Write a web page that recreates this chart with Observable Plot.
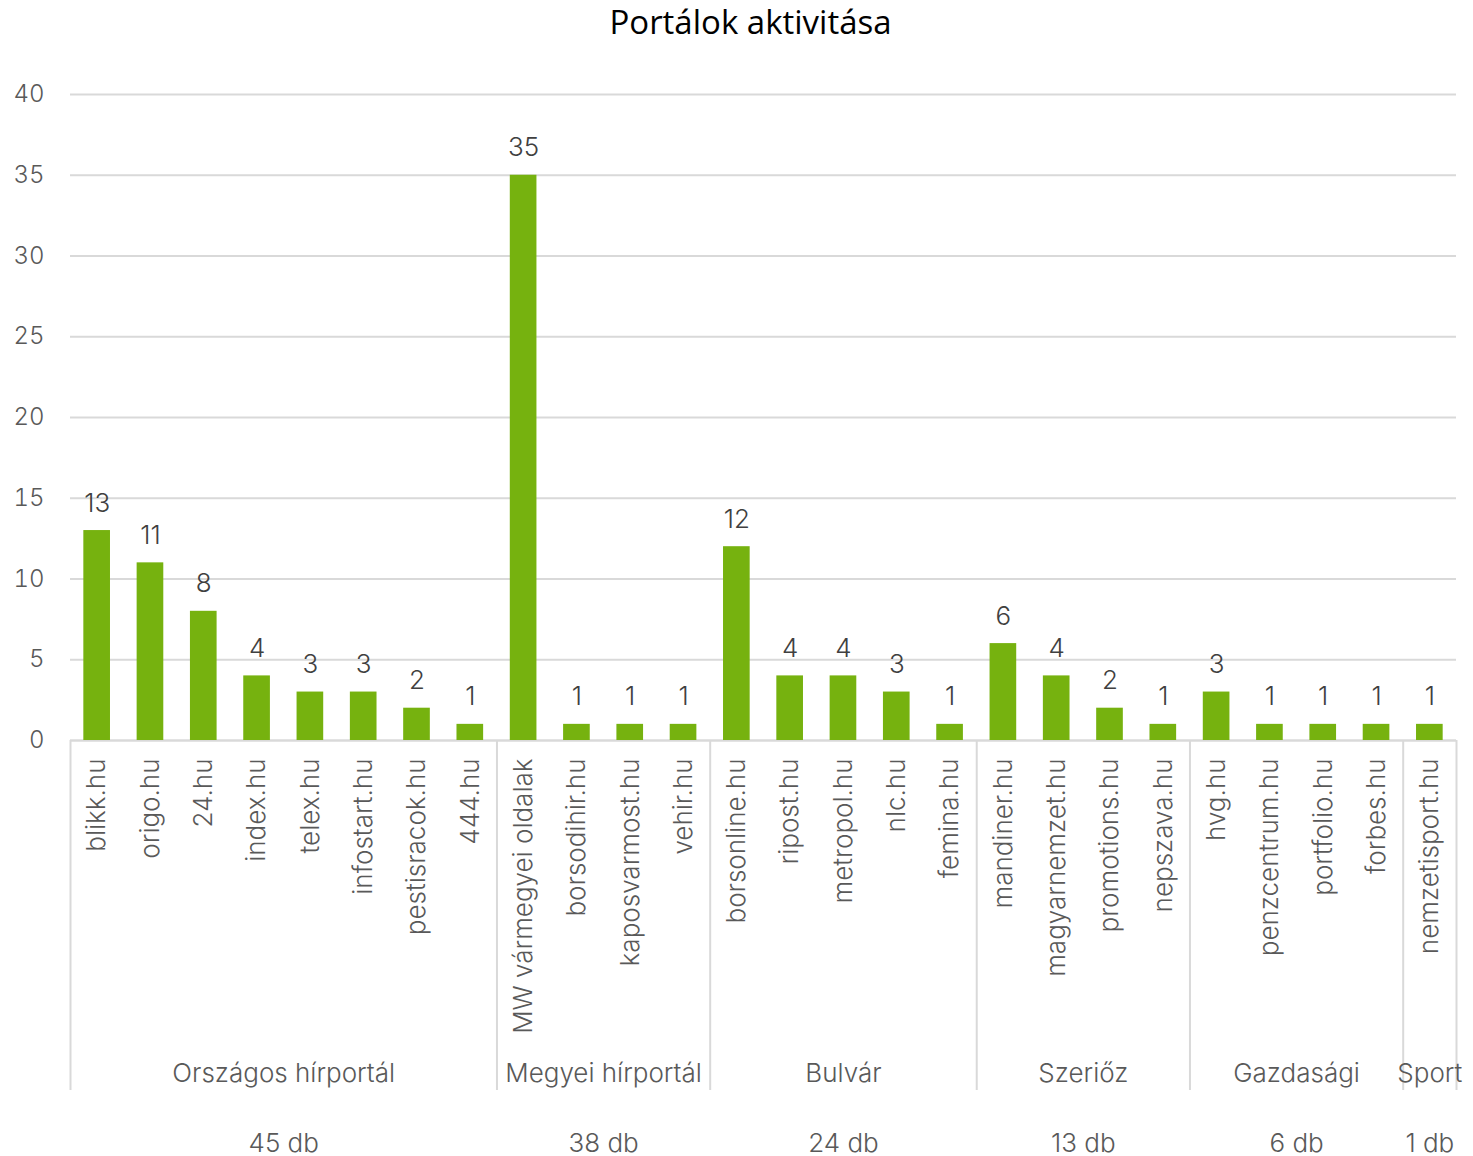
<!DOCTYPE html>
<html><head><meta charset="utf-8">
<script src="https://cdn.jsdelivr.net/npm/d3@7"></script>
<script src="https://cdn.jsdelivr.net/npm/@observablehq/plot@0.6"></script>
<style>
body{margin:0;background:#fff;}
#title{height:50px;line-height:44px;text-align:center;padding-left:28px;font-family:"Liberation Sans Narrow","Open Sans",sans-serif;font-size:33px;color:#000;}
#chart svg{display:block;}
</style></head><body>
<div id="title">Portálok aktivitása</div>
<div id="chart"></div>
<script>
const portals = ["blikk.hu","origo.hu","24.hu","index.hu","telex.hu","infostart.hu","pestisracok.hu","444.hu",
  "MW vármegyei oldalak","borsodihir.hu","kaposvarmost.hu","vehir.hu",
  "borsonline.hu","ripost.hu","metropol.hu","nlc.hu","femina.hu",
  "mandiner.hu","magyarnemzet.hu","promotions.hu","nepszava.hu",
  "hvg.hu","penzcentrum.hu","portfolio.hu","forbes.hu",
  "nemzetisport.hu"];
const counts = [13,11,8,4,3,3,2,1, 35,1,1,1, 12,4,4,3,1, 6,4,2,1, 3,1,1,1, 1];
const groupNames = ["Országos hírportál","Megyei hírportál","Bulvár","Szeriőz","Gazdasági","Sport"];
const groupSizes = [8,4,5,4,4,1];
const groupTotals = ["45 db","38 db","24 db","13 db","6 db","1 db"];
const yTicks = [0,5,10,15,20,25,30,35,40];

const W = 1473, H = 1106, mL = 70, mR = 17, mT = 44, mB = 416;
const step = (W - mL - mR) / portals.length;
const data = portals.map((p, i) => ({portal: p, count: counts[i]}));

let start = 0;
const groups = groupNames.map((g, i) => {
  const o = {name: g, first: portals[start], last: portals[start + groupSizes[i] - 1], size: groupSizes[i], total: groupTotals[i]};
  start += groupSizes[i];
  return o;
});

const txt = "#595959";
const marks = [
  Plot.gridY(yTicks, {stroke: "#d9d9d9", strokeOpacity: 1, strokeWidth: 2}),
  Plot.axisY(yTicks, {tickSize: 0, tickPadding: 26, fontSize: 24, fill: txt, label: null}),
  Plot.ruleY([0], {stroke: "#d9d9d9", strokeWidth: 2}),
  Plot.barY(data, {x: "portal", y: "count", fill: "#76b20f"}),
  Plot.text(data, {x: "portal", y: "count", text: d => String(d.count), dy: -19, lineAnchor: "bottom", fontSize: 26, fill: "#404040"}),
  Plot.axisX({tickRotate: -90, tickSize: 0, tickPadding: 18, fontSize: 26, fill: txt, label: null}),
  Plot.ruleX(groups, {x: "first", dx: -step / 2, stroke: "#d9d9d9", strokeWidth: 2, insetTop: H - mT - mB, insetBottom: -350}),
  Plot.ruleX(groups.slice(-1), {x: "last", dx: step / 2, stroke: "#d9d9d9", strokeWidth: 2, insetTop: H - mT - mB, insetBottom: -350})
];
groups.forEach(g => {
  marks.push(Plot.text([g], {x: "first", text: "name", dx: (g.size - 1) / 2 * step, frameAnchor: "bottom", dy: 341, fontSize: 26, fill: txt}));
  marks.push(Plot.text([g], {x: "first", text: "total", dx: (g.size - 1) / 2 * step, frameAnchor: "bottom", dy: 411, fontSize: 26, fill: txt}));
});

const chart = Plot.plot({
  width: W, height: H,
  marginLeft: mL, marginRight: mR, marginTop: mT, marginBottom: mB,
  style: {fontFamily: "Inter, sans-serif", fontWeight: 300, background: "#fff"},
  x: {domain: portals, paddingInner: 0.5, paddingOuter: 0.25, round: false, axis: null},
  y: {domain: [0, 40], axis: null},
  marks
});
document.getElementById("chart").appendChild(chart);
</script>
</body></html>
